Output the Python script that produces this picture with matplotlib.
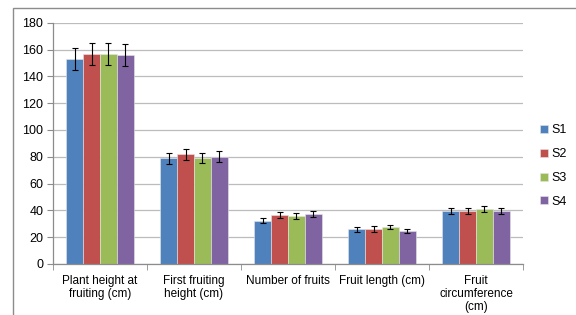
import numpy as np
import matplotlib
matplotlib.use("Agg")
from matplotlib import pyplot as plt
from matplotlib.patches import Rectangle

categories = ["Plant height at\nfruiting (cm)", "First fruiting\nheight (cm)",
              "Number of fruits", "Fruit length (cm)", "Fruit\ncircumference\n(cm)"]
series = ["S1", "S2", "S3", "S4"]
values = {
    "S1": [153, 78.7, 32.3, 25.8, 39.3],
    "S2": [156.5, 81.7, 36.3, 26.0, 39.8],
    "S3": [156.5, 79.0, 35.6, 27.6, 40.8],
    "S4": [156, 80.0, 37.6, 24.8, 39.8],
}
errors = {
    "S1": [8, 4, 1.9, 2.0, 2.3],
    "S2": [8, 4, 2.3, 2.0, 2.3],
    "S3": [8, 4, 2.2, 1.5, 2.3],
    "S4": [8, 4, 2.2, 1.5, 2.3],
}
colors = ["#4F81BD", "#C0504D", "#9BBB59", "#8064A2"]

plt.rcParams['font.family'] = ['Liberation Sans Narrow', 'Liberation Sans', 'DejaVu Sans']

fig = plt.figure(figsize=(5.76, 3.15), dpi=100)
# outer chart frame
fig.patches.append(Rectangle((13 / 576, -0.1), 1.1, 1 - 8 / 315 + 0.1, transform=fig.transFigure,
                             fill=False, edgecolor="#8c8c8c", linewidth=1.0))
ax = fig.add_axes([53 / 576, 1 - 264 / 315, 470 / 576, (264 - 22.7) / 315])

x = np.arange(len(categories))
w = 0.18
for i, s in enumerate(series):
    pos = x + (i - 1.5) * w
    ax.bar(pos, values[s], w, color=colors[i], edgecolor="#e6e6e6", linewidth=0.4,
           label=s, zorder=2)
    ax.errorbar(pos, values[s], yerr=errors[s], fmt="none", ecolor="black",
                elinewidth=0.8, capsize=2.5, capthick=0.8, zorder=3)

ax.set_xlim(-0.5, len(categories) - 0.5)
ax.set_ylim(0, 180)
ax.set_yticks(np.arange(0, 181, 20))
ax.yaxis.grid(True, color="#bcbcbc", linewidth=0.9)
ax.set_axisbelow(True)

ax.set_xticks(x)
ax.set_xticklabels(categories, fontsize=8.5, linespacing=1.1)
ax.set_xticks(np.arange(-0.5, len(categories), 1), minor=True)
ax.tick_params(axis="x", which="major", length=0, pad=8)
ax.tick_params(axis="x", which="minor", length=4, color="#8c8c8c", direction="out")
ax.tick_params(axis="y", length=4, color="#8c8c8c", labelsize=9, pad=3)

for side in ["top", "right"]:
    ax.spines[side].set_visible(False)
for side in ["left", "bottom"]:
    ax.spines[side].set_color("#8c8c8c")
    ax.spines[side].set_linewidth(0.9)

leg = fig.legend(loc="center left", bbox_to_anchor=(535 / 576, 1 - 166 / 315), frameon=False,
                 fontsize=9, handlelength=0.6, handleheight=0.6, handletextpad=0.3,
                 labelspacing=0.95, borderaxespad=0)

fig.savefig("out.png", dpi=100)
